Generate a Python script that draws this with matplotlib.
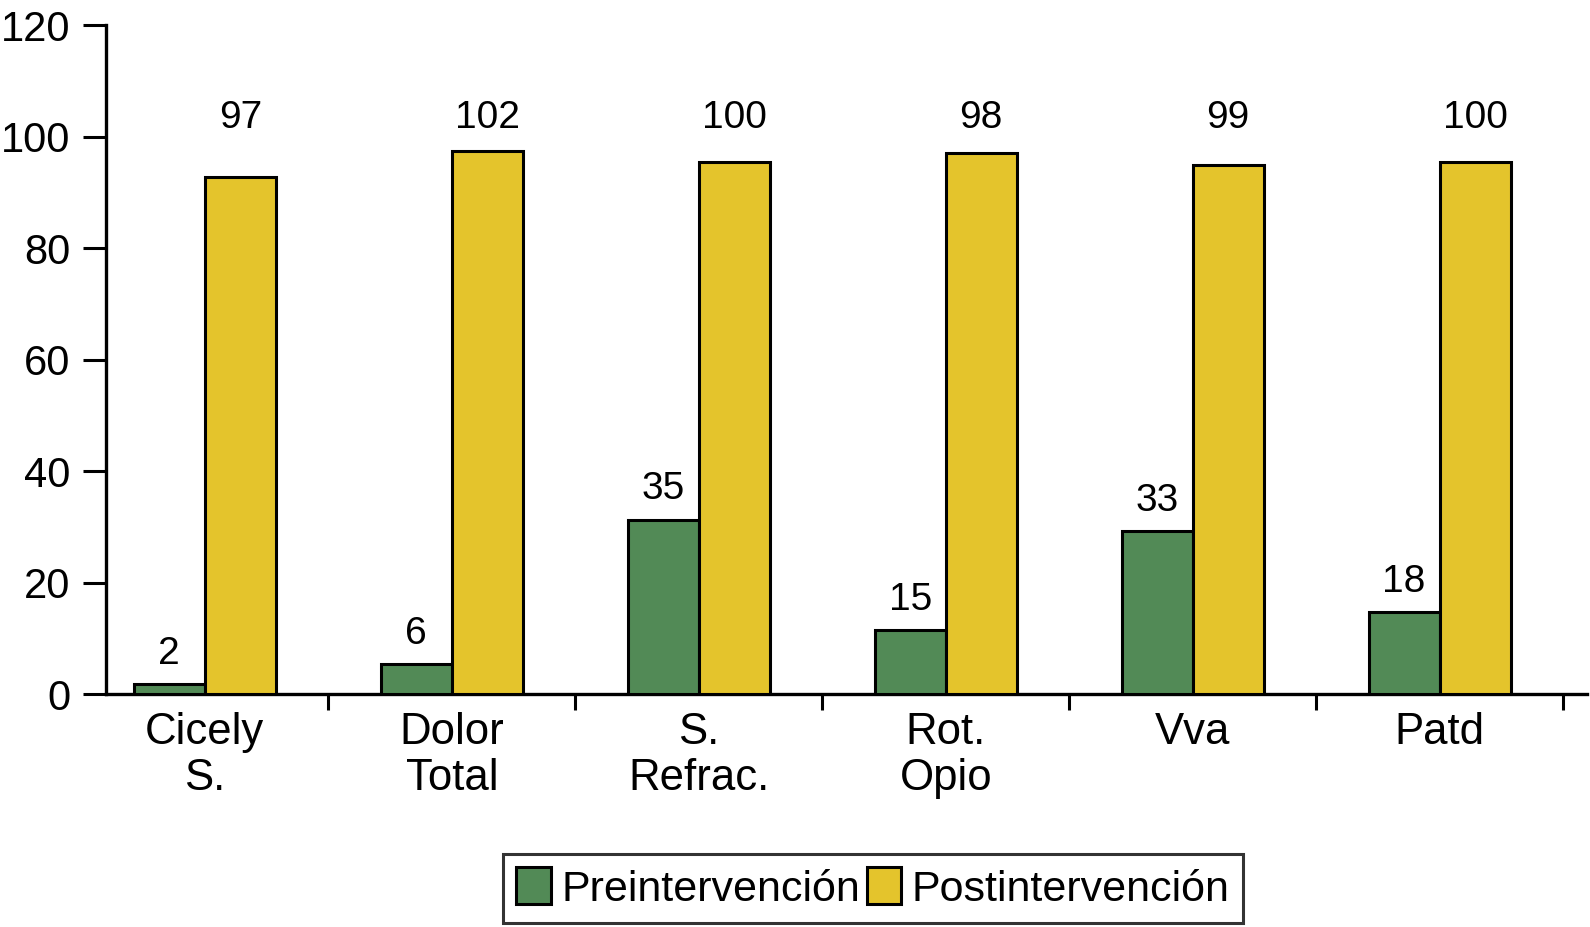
import numpy as np
import matplotlib
matplotlib.use("Agg")
import matplotlib.pyplot as plt

plt.rcParams['font.family'] = ['Liberation Sans', 'DejaVu Sans']

categories = ["Cicely\nS.", "Dolor\nTotal", "S.\nRefrac.", "Rot.\nOpio", "Vva", "Patd"]
pre_heights = [1.8, 5.3, 31.3, 11.4, 29.3, 14.7]
post_heights = [92.7, 97.4, 95.4, 97.1, 94.9, 95.4]
pre_labels = ["2", "6", "35", "15", "33", "18"]
post_labels = ["97", "102", "100", "98", "99", "100"]

green = '#528a56'
yellow = '#e4c42c'

fig = plt.figure(figsize=(15.9, 9.27), dpi=100)
ax = fig.add_axes([0.0667, 0.2513, 0.9313, 0.7217])

x = np.arange(len(categories))
w = 0.2875
b1 = ax.bar(x - w/2, pre_heights, w, color=green, edgecolor='black', linewidth=2.2,
            label='Preintervención', zorder=3)
b2 = ax.bar(x + w/2, post_heights, w, color=yellow, edgecolor='black', linewidth=2.2,
            label='Postintervención', zorder=3)

# value labels
for xi, h, lab in zip(x, pre_heights, pre_labels):
    ax.text(xi - w/2, h + 5.4, lab, ha='center', va='center', fontsize=28)
for xi, h, lab in zip(x, post_heights, post_labels):
    ax.text(xi + w/2, 103.3, lab, ha='center', va='center', fontsize=28)

ax.set_xlim(-0.40, 5.596)
ax.set_ylim(0, 120)
ax.set_yticks(range(0, 121, 20))
ax.tick_params(axis='y', labelsize=30, length=16.5, width=2.2, pad=9)

ax.set_xticks(x)
ax.set_xticklabels(categories, fontsize=31.5, linespacing=1.15)
ax.set_xticks(x + 0.5, minor=True)
ax.tick_params(axis='x', which='major', length=0, pad=13)
ax.tick_params(axis='x', which='minor', length=11.5, width=2.2)

for s in ['top', 'right']:
    ax.spines[s].set_visible(False)
for s in ['left', 'bottom']:
    ax.spines[s].set_linewidth(2.4)

leg = fig.legend(handles=[b1, b2], loc='center', bbox_to_anchor=(0.549, 0.0415),
                 ncol=2, fontsize=31, frameon=True, fancybox=False,
                 handlelength=0.8, handleheight=0.95, handletextpad=0.25,
                 columnspacing=0.15, borderpad=0.3, borderaxespad=0)
leg.get_frame().set_edgecolor('black')
leg.get_frame().set_linewidth(2.2)
for p in leg.get_patches():
    p.set_linewidth(2.2)

fig.savefig('out.png', dpi=100)
